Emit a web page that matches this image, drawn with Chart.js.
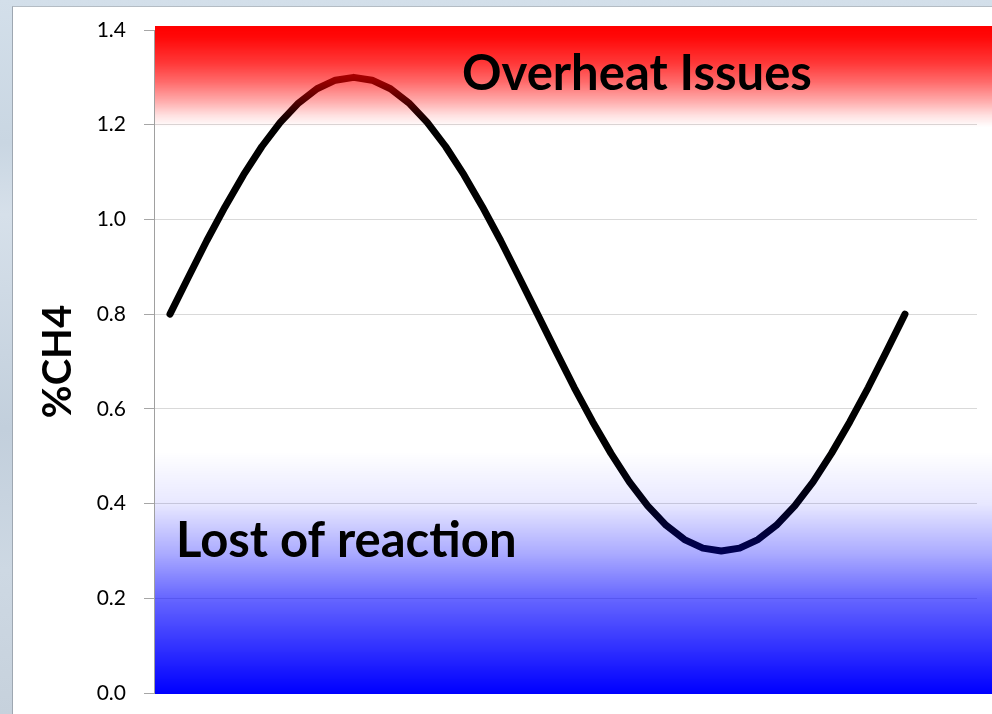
<!DOCTYPE html>
<html>
<head>
<meta charset="utf-8">
<script src="https://cdn.jsdelivr.net/npm/chart.js@4.4.1/dist/chart.umd.min.js"></script>
<style>
  html, body { margin: 0; padding: 0; }
  body {
    width: 992px; height: 714px; overflow: hidden; position: relative;
    background: linear-gradient(180deg, #d3dfea 0%, #c9d6e2 20%, #d6e0ea 30%, #c2cfdc 60%, #cdd8e3 80%, #c6d1dc 100%);
  }
  #frame {
    position: absolute; left: 12px; top: 6px; width: 980px; height: 708px;
    background: #ffffff; border-left: 1px solid #9ea7b1; border-top: 1px solid #b4bcc4;
    box-sizing: border-box;
  }
  #c { position: absolute; left: 0; top: 0; }
</style>
</head>
<body>
<div id="frame"><canvas id="c" width="979" height="707"></canvas></div>
<script>
// ---- data ----
const steps = [0, 1, 2, 3, 4, 5, 6, 7, 8, 9, 10, 11, 12, 13, 14, 15, 16, 17, 18, 19, 20,
               21, 22, 23, 24, 25, 26, 27, 28, 29, 30, 31, 32, 33, 34, 35, 36, 37, 38, 39, 40];
const ch4 = [0.800, 0.878, 0.955, 1.027, 1.094, 1.154, 1.205, 1.246, 1.276, 1.294, 1.300,
             1.294, 1.276, 1.246, 1.205, 1.154, 1.094, 1.027, 0.955, 0.878, 0.800,
             0.722, 0.645, 0.573, 0.506, 0.446, 0.395, 0.354, 0.324, 0.306, 0.300,
             0.306, 0.324, 0.354, 0.395, 0.446, 0.506, 0.573, 0.645, 0.722, 0.800];
const yTicks = [0.0, 0.2, 0.4, 0.6, 0.8, 1.0, 1.2, 1.4];
const axisTitle = '%CH4';
const topLabel = 'Overheat Issues';
const bottomLabel = 'Lost of reaction';

const points = steps.map((s, i) => ({ x: s, y: ch4[i] }));

const zonePlugin = {
  id: 'zones',
  afterDatasetsDraw(chart) {
    const { ctx, chartArea: a, scales: { y } } = chart;
    const top = a.top - 4, bottom = a.bottom + 1, left = a.left + 1, right = chart.width;
    const h = bottom - top;
    const f = v => Math.min(1, Math.max(0, (y.getPixelForValue(v) - top) / h));
    const g = ctx.createLinearGradient(0, top, 0, bottom);
    g.addColorStop(0, 'rgba(255,0,0,1)');
    g.addColorStop(f(1.385), 'rgba(255,0,0,0.97)');
    g.addColorStop(f(1.33), 'rgba(255,0,0,0.78)');
    g.addColorStop(f(1.29), 'rgba(255,0,0,0.58)');
    g.addColorStop(f(1.25), 'rgba(255,0,0,0.33)');
    g.addColorStop(f(1.22), 'rgba(255,0,0,0.12)');
    g.addColorStop(f(1.195), 'rgba(255,0,0,0)');
    g.addColorStop(f(0.51), 'rgba(0,0,255,0)');
    g.addColorStop(f(0.40), 'rgba(0,0,255,0.09)');
    g.addColorStop(f(0.295), 'rgba(0,0,255,0.33)');
    g.addColorStop(f(0.20), 'rgba(0,0,255,0.60)');
    g.addColorStop(f(0.12), 'rgba(0,0,255,0.76)');
    g.addColorStop(f(0.0), 'rgba(0,0,255,1)');
    g.addColorStop(1, 'rgba(0,0,255,1)');
    ctx.save();
    ctx.fillStyle = g;
    ctx.fillRect(left, top, right - left, h);
    ctx.restore();
  },
  afterDraw(chart) {
    const { ctx, chartArea: a } = chart;
    ctx.save();
    ctx.fillStyle = '#000';
    ctx.textAlign = 'left';
    ctx.textBaseline = 'alphabetic';
    ctx.font = 'bold 49px Lato';
    ctx.fillText(topLabel, a.left + 308, a.top + 60);
    ctx.fillText(bottomLabel, a.left + 22, a.top + 527);
    ctx.restore();
  }
};

new Chart(document.getElementById('c'), {
  type: 'line',
  data: {
    datasets: [{
      data: points,
      borderColor: '#000000',
      borderWidth: 7,
      borderCapStyle: 'round',
      borderJoinStyle: 'round',
      pointRadius: 0,
      pointHoverRadius: 0,
      tension: 0,
      fill: false
    }]
  },
  options: {
    responsive: false,
    animation: false,
    events: [],
    layout: { padding: { top: 23, bottom: 21, right: 15, left: 0 } },
    plugins: { legend: { display: false }, tooltip: { enabled: false }, title: { display: false } },
    scales: {
      x: { type: 'linear', display: false, min: -0.87, max: 43.92 },
      y: {
        min: 0, max: 1.4,
        afterBuildTicks(scale) { scale.ticks = yTicks.map(v => ({ value: v })); },
        afterFit(scale) { scale.width = 141; scale.paddingTop = 0; scale.paddingBottom = 0; },
        ticks: {
          color: '#000',
          font: { family: 'Lato', size: 21 },
          padding: 18,
          callback: v => Number(v).toFixed(1)
        },
        grid: { color: '#d9d9d9', lineWidth: 1, tickColor: '#a6a6a6', tickLength: 10 },
        border: { display: true, color: '#a0a0a0', width: 1 },
        title: {
          display: true, text: axisTitle, color: '#000',
          font: { family: 'Lato', size: 40, weight: 'bold' },
          padding: { top: 21, bottom: 0 }
        }
      }
    }
  },
  plugins: [zonePlugin]
});
</script>
</body>
</html>
